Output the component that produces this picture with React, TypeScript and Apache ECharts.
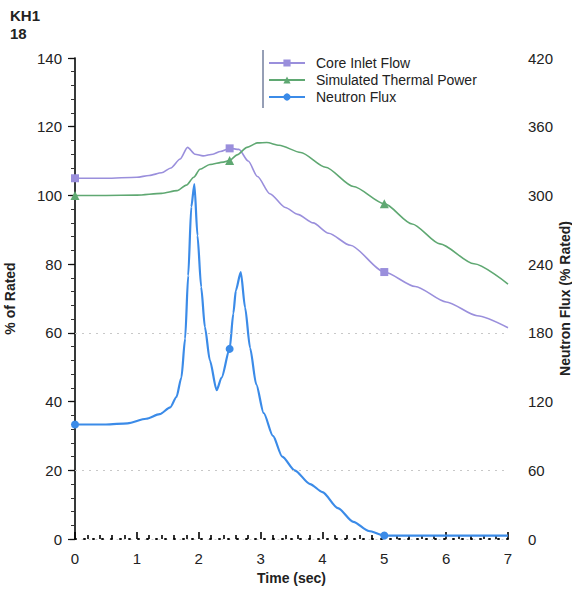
import React, { useEffect, useRef } from "react";
import * as echarts from "echarts";

const timeTicks = [0, 1, 2, 3, 4, 5, 6, 7];
const markerTimes = [0, 2.5, 5];

const flowT = [0, 0.5, 1.0, 1.2, 1.4, 1.55, 1.7, 1.82, 1.94, 2.07, 2.23, 2.35, 2.5, 2.65, 2.8, 2.95, 3.15, 3.4, 3.6, 3.85, 4.1, 4.45, 5.0, 5.5, 6.0, 6.5, 7.0];
const flowV = [105, 105, 105.3, 105.8, 106.6, 108, 110.6, 114, 112, 111.5, 112, 112.8, 113.7, 113.4, 110, 105.5, 100.5, 96.5, 94.5, 92, 89, 85.5, 77.7, 73.5, 69, 65, 61.5];

const powerT = [0, 0.5, 1.0, 1.4, 1.65, 1.8, 1.92, 2.02, 2.18, 2.4, 2.5, 2.62, 2.78, 2.95, 3.1, 3.3, 3.65, 4.05, 4.5, 5.0, 5.45, 5.9, 6.45, 7.0];
const powerV = [100, 100, 100.1, 100.6, 101.4, 103, 105.3, 107.6, 109, 109.7, 110.2, 111.8, 114, 115.3, 115.4, 114.6, 112.5, 108.2, 102.6, 97.6, 91.7, 85.9, 80.1, 74.2];

const fluxT = [0, 0.5, 0.85, 1.15, 1.37, 1.54, 1.64, 1.72, 1.78, 1.83, 1.88, 1.93, 1.98, 2.04, 2.1, 2.18, 2.29, 2.37, 2.5, 2.56, 2.6, 2.68, 2.75, 2.83, 2.93, 3.05, 3.2, 3.35, 3.55, 3.8, 4.0, 4.25, 4.5, 4.75, 5.0, 6.0, 7.0];
const fluxV = [100, 100, 101, 105, 109, 115, 124, 141, 175, 230, 290, 310, 265, 220, 185, 156, 130, 141, 166, 197, 217, 233, 202, 167, 135, 110, 90, 72, 60, 48, 41, 27, 15, 7, 3, 3, 3];

const leftGridValues = [20, 60];

const FONT = "'Liberation Sans', Arial, sans-serif";

function pairs(t: number[], v: number[]) {
  return t.map((x, i) => [x, v[i]]);
}

export default function App() {
  const ref = useRef<HTMLDivElement>(null);
  useEffect(() => {
    if (!ref.current) return;
    const chart = echarts.init(ref.current, undefined, { renderer: "svg" });
    const symSize = (size: number) => (val: number[]) =>
      markerTimes.includes(val[0]) ? size : 0;
    chart.setOption({
      animation: false,
      backgroundColor: "#ffffff",
      textStyle: { fontFamily: FONT },
      grid: { left: 75, right: 64, top: 58, bottom: 52, containLabel: false, outerBoundsMode: "none" },
      graphic: [
        {
          type: "text",
          left: 10,
          top: 6,
          style: {
            text: "KH1\n18",
            font: `bold 15px ${FONT}`,
            fill: "#222",
            lineHeight: 18,
          },
        },
        {
          type: "line",
          shape: { x1: 263, y1: 50, x2: 263, y2: 108 },
          style: { stroke: "#2c3e6c", lineWidth: 1 },
          z: 100,
        },
      ],
      legend: {
        orient: "vertical",
        left: 266,
        top: 54,
        itemWidth: 36,
        itemHeight: 9,
        itemGap: 3,
        padding: [2, 6, 2, 2],
        backgroundColor: "#ffffff",
        textStyle: { fontSize: 14, color: "#222", fontFamily: FONT, padding: [0, 0, 0, 6] },
        data: ["Core Inlet Flow", "Simulated Thermal Power", "Neutron Flux"],
      },
      xAxis: [
        {
          type: "value",
          min: 0,
          max: 7,
          interval: 1,
          position: "bottom",
          name: "Time (sec)",
          nameLocation: "middle",
          nameGap: 32,
          nameMoveOverlap: false,
          nameTextStyle: { fontSize: 14, fontWeight: "bold", color: "#222", fontFamily: FONT },
          axisLine: { show: true, lineStyle: { color: "#cccccc", type: [1, 6], width: 1 } },
          axisTick: { inside: true, length: 7, lineStyle: { color: "#000", width: 1.6 } },
          minorTick: { show: true, splitNumber: 5, length: 4, lineStyle: { color: "#000", width: 1.6 } },
          axisLabel: { fontSize: 15, color: "#222", margin: 12, fontFamily: FONT,
            formatter: (v: number) => (timeTicks.includes(v) ? String(v) : "") },
          splitLine: { show: false },
        },
        {
          type: "value",
          min: 0,
          max: 7,
          interval: 1,
          position: "top",
          axisLine: { lineStyle: { color: "#111", type: [1, 8], width: 2 } },
          axisTick: { show: false },
          axisLabel: { show: false },
          splitLine: { show: false },
        },
      ],
      yAxis: [
        {
          type: "value",
          min: 0,
          max: 140,
          interval: 20,
          position: "left",
          name: "% of Rated",
          nameLocation: "middle",
          nameGap: 58,
          nameRotate: 90,
          nameMoveOverlap: false,
          nameTextStyle: { fontSize: 14, fontWeight: "bold", color: "#222", fontFamily: FONT },
          axisLine: { show: true, lineStyle: { color: "#8a9898", width: 1.5 } },
          axisTick: { show: true, inside: false, length: 5, lineStyle: { color: "#333", width: 1.2 } },
          minorTick: { show: true, splitNumber: 5, length: 3, lineStyle: { color: "#555" } },
          axisLabel: { fontSize: 15, color: "#222", margin: 13, fontFamily: FONT },
          splitLine: { show: false },
        },
        {
          type: "value",
          min: 0,
          max: 420,
          interval: 60,
          position: "right",
          name: "Neutron Flux (% Rated)",
          nameLocation: "middle",
          nameGap: 50,
          nameRotate: 90,
          nameMoveOverlap: false,
          nameTextStyle: { fontSize: 14, fontWeight: "bold", color: "#222", fontFamily: FONT },
          axisLine: { show: true, lineStyle: { color: "#111", width: 1.5 } },
          axisTick: { show: true, inside: true, length: 7, lineStyle: { color: "#111", width: 1.2 } },
          minorTick: { show: true, splitNumber: 5, length: 4, lineStyle: { color: "#333" } },
          axisLabel: { fontSize: 15, color: "#222", margin: 20, fontFamily: FONT },
          splitLine: { show: false },
        },
      ],
      series: [
        {
          name: "Core Inlet Flow",
          type: "line",
          xAxisIndex: 0,
          yAxisIndex: 0,
          data: pairs(flowT, flowV),
          smooth: 0.25,
          smoothMonotone: "x",
          symbol: "rect",
          symbolSize: symSize(8),
          showAllSymbol: true,
          color: "#9a8fdc",
          lineStyle: { width: 1.6, color: "#9a8fdc" },
          itemStyle: { color: "#9a8fdc" },
          markLine: {
            silent: true,
            symbol: ["none", "none"],
            label: { show: false },
            lineStyle: { color: "#c8c8c8", type: [2, 5], width: 1 },
            data: leftGridValues.map((v) => ({ yAxis: v })),
          },
          z: 3,
        },
        {
          name: "Simulated Thermal Power",
          type: "line",
          xAxisIndex: 0,
          yAxisIndex: 0,
          data: pairs(powerT, powerV),
          smooth: 0.25,
          smoothMonotone: "x",
          symbol: "triangle",
          symbolSize: symSize(9),
          showAllSymbol: true,
          color: "#5fa872",
          lineStyle: { width: 1.6, color: "#5fa872" },
          itemStyle: { color: "#5fa872" },
          z: 3,
        },
        {
          name: "Neutron Flux",
          type: "line",
          xAxisIndex: 0,
          yAxisIndex: 1,
          data: pairs(fluxT, fluxV),
          smooth: 0.25,
          smoothMonotone: "x",
          symbol: "circle",
          symbolSize: symSize(8),
          showAllSymbol: true,
          color: "#3b8be8",
          lineStyle: { width: 2.2, color: "#3b8be8" },
          itemStyle: { color: "#3b8be8" },
          z: 4,
        },
      ],
    });
    return () => chart.dispose();
  }, []);
  return (
    <div
      ref={ref}
      style={{ position: "fixed", left: 0, top: 0, width: 572, height: 591 }}
    />
  );
}
